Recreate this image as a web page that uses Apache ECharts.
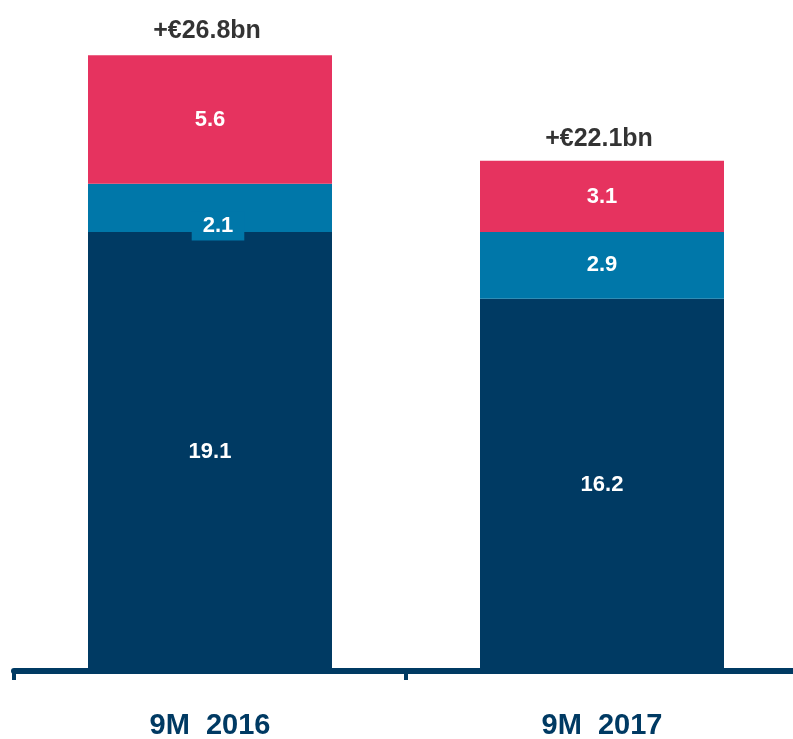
<!DOCTYPE html>
<html>
<head>
<meta charset="utf-8">
<script src="https://cdn.jsdelivr.net/npm/echarts@6/dist/echarts.min.js"></script>
<style>
html,body{margin:0;padding:0;background:#fff;}
#chart{width:793px;height:739px;}
</style>
</head>
<body>
<div id="chart"></div>
<script>
var categories = ['9M  2016', '9M  2017'];
var baseValues = [19.1, 16.2];
var midValues = [2.1, 2.9];
var topValues = [5.6, 3.1];
var totals = [26.8, 22.1];
var totalLabels = ['+€26.8bn', '+€22.1bn'];

var NAVY = '#003A63', BLUE = '#0077A9', PINK = '#E6335F';
var FONT = '"Liberation Sans", Arial, sans-serif';

var chart = echarts.init(document.getElementById('chart'));

function segLabel() {
  return { show: true, position: 'inside', color: '#fff', fontFamily: FONT, fontWeight: 'bold', fontSize: 22,
    formatter: function (p) { return p.value.toFixed(1); } };
}

var midData = midValues.map(function (v, i) {
  if (i === 0) {
    return { value: v, label: { backgroundColor: BLUE, padding: [4, 11, 3, 11], offset: [8, 18] } };
  }
  return v;
});

chart.setOption({
  animation: false,
  grid: { left: 14, width: 784, top: 0, bottom: 68, containLabel: false, outerBoundsMode: 'none' },
  xAxis: {
    type: 'category',
    data: categories,
    axisLine: { show: true, lineStyle: { color: NAVY, width: 6 } },
    axisTick: { show: true, length: 9, lineStyle: { color: NAVY, width: 4 } },
    axisLabel: { color: NAVY, fontFamily: FONT, fontWeight: 'bold', fontSize: 29, margin: 40 }
  },
  yAxis: { type: 'value', min: 0, max: 29.2, show: false, splitLine: { show: false } },
  series: [
    { type: 'bar', stack: 'a', data: baseValues, barWidth: 244, itemStyle: { color: NAVY }, label: segLabel(), z: 3 },
    { type: 'bar', stack: 'a', data: midData, barWidth: 244, itemStyle: { color: BLUE }, label: segLabel(), z: 3 },
    { type: 'bar', stack: 'a', data: topValues, barWidth: 244, itemStyle: { color: PINK }, label: segLabel(), z: 3 },
    { type: 'scatter', data: totals, symbolSize: 1, itemStyle: { color: 'rgba(0,0,0,0)' },
      label: { show: true, position: 'top', distance: 11, offset: [-3, 0], color: '#000000', fontFamily: FONT, fontWeight: 'bold', fontSize: 25,
        formatter: function (p) { return totalLabels[p.dataIndex]; } }, z: 5 }
  ]
});
</script>
</body>
</html>
